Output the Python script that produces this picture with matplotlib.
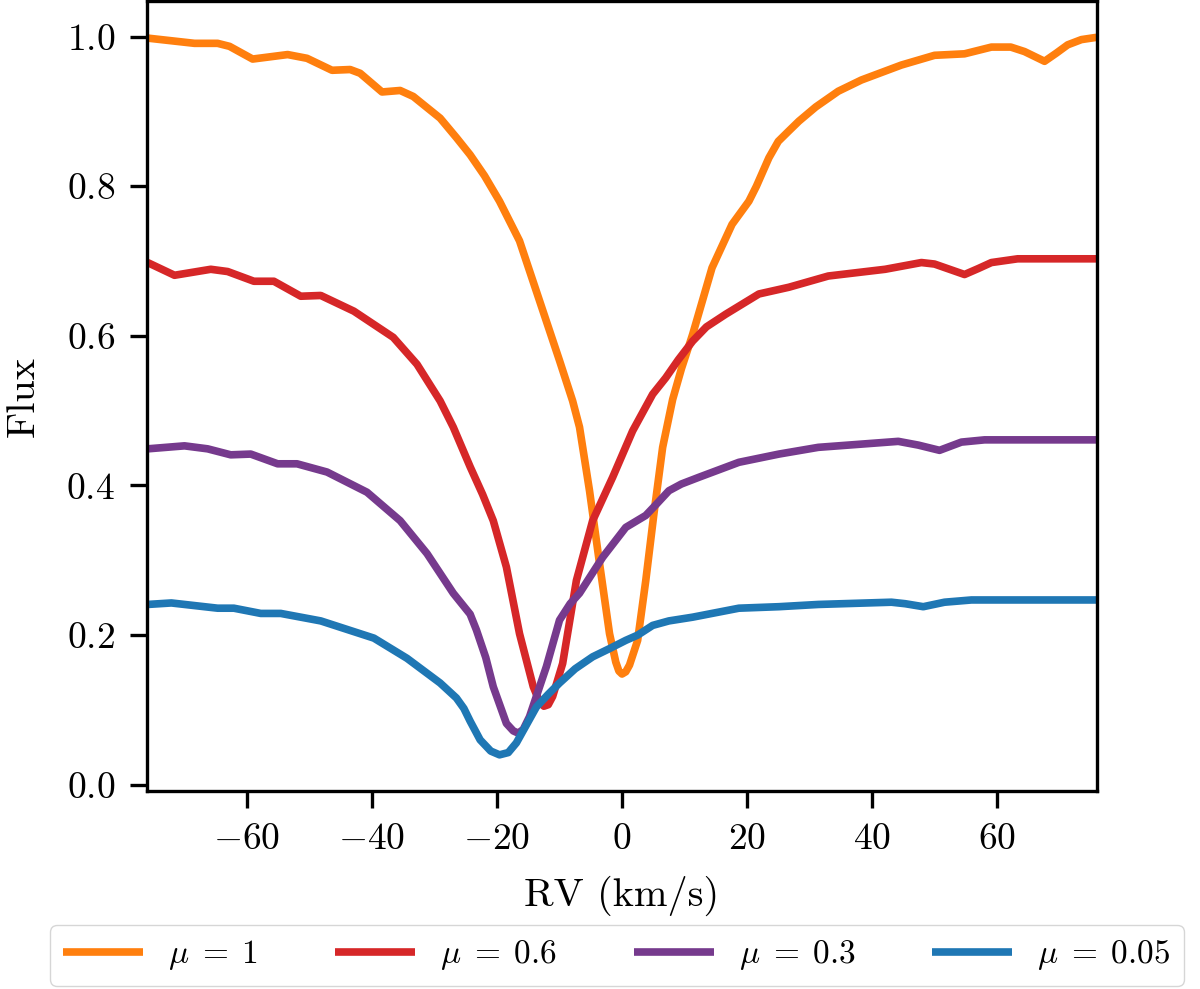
import numpy as np
import matplotlib
matplotlib.use('Agg')
import matplotlib.pyplot as plt

plt.rcParams['font.family'] = 'serif'
plt.rcParams['font.serif'] = ['cmr10', 'DejaVu Serif']
plt.rcParams['mathtext.fontset'] = 'cm'
plt.rcParams['axes.formatter.use_mathtext'] = True
plt.rcParams['font.size'] = 26

# mu = 1
rv_1 = [-75.9, -68.4, -64.7, -62.8, -59.1, -53.5, -50.4, -46.4, -43.5, -41.9, -38.4,
        -35.5, -33.4, -29.1, -26.5, -24.3, -22.0, -19.6, -16.4, -13.2, -10.0, -7.9,
        -6.8, -5.2, -3.6, -2.0, -1.0, -0.5, 0.0, 0.6, 1.2, 2.5, 3.8, 5.1, 6.5, 8.1,
        9.5, 11.3, 14.4, 17.6, 20.3, 21.5, 23.5, 25.0, 26.7, 28.3, 31.0, 34.6, 38.3,
        44.7, 50.0, 54.8, 59.1, 62.2, 64.4, 67.6, 69.5, 71.3, 73.5, 75.9]
flux_1 = [0.998, 0.991, 0.991, 0.987, 0.970, 0.976, 0.971, 0.955, 0.956, 0.951, 0.926,
          0.928, 0.920, 0.891, 0.865, 0.842, 0.814, 0.780, 0.727, 0.647, 0.567, 0.513,
          0.478, 0.393, 0.296, 0.202, 0.164, 0.152, 0.148, 0.151, 0.160, 0.193, 0.273,
          0.362, 0.451, 0.515, 0.556, 0.602, 0.691, 0.749, 0.780, 0.800, 0.838, 0.860,
          0.874, 0.887, 0.906, 0.927, 0.942, 0.962, 0.975, 0.977, 0.986, 0.986, 0.980,
          0.967, 0.978, 0.989, 0.996, 0.999]

# mu = 0.6
rv_06 = [-75.9, -71.6, -65.8, -63.1, -58.9, -55.7, -51.4, -48.2, -42.9, -36.6, -32.8,
         -29.1, -27.0, -24.3, -22.3, -20.6, -18.5, -16.4, -14.2, -13.3, -12.5, -11.8,
         -11.1, -9.5, -7.3, -4.7, -1.5, 1.7, 4.9, 7.0, 9.0, 11.3, 13.5, 16.6, 21.9,
         26.7, 33.0, 42.1, 47.9, 50.0, 54.8, 57.0, 59.1, 63.3, 75.9]
flux_06 = [0.698, 0.681, 0.689, 0.686, 0.673, 0.673, 0.653, 0.654, 0.633, 0.598, 0.562,
           0.513, 0.478, 0.425, 0.388, 0.353, 0.291, 0.202, 0.131, 0.113, 0.105, 0.107,
           0.118, 0.162, 0.273, 0.353, 0.411, 0.473, 0.522, 0.544, 0.568, 0.593, 0.612,
           0.629, 0.656, 0.665, 0.680, 0.689, 0.698, 0.696, 0.682, 0.690, 0.698, 0.703,
           0.703]

# mu = 0.3
rv_03 = [-75.9, -70.0, -66.3, -62.6, -59.4, -55.1, -52.0, -47.2, -40.8, -35.5, -31.2,
         -27.0, -24.3, -23.3, -21.8, -20.6, -18.5, -17.4, -16.6, -15.8, -14.8, -12.1,
         -10.0, -8.3, -6.8, -3.1, 0.6, 3.8, 5.5, 7.5, 9.5, 12.3, 18.7, 25.1, 31.4,
         37.8, 44.2, 47.4, 50.8, 54.3, 58.0, 75.9]
flux_03 = [0.449, 0.453, 0.449, 0.441, 0.442, 0.429, 0.429, 0.418, 0.391, 0.353, 0.309,
           0.256, 0.228, 0.207, 0.170, 0.131, 0.082, 0.072, 0.069, 0.074, 0.091, 0.158,
           0.220, 0.242, 0.256, 0.304, 0.344, 0.360, 0.375, 0.393, 0.402, 0.411, 0.431,
           0.442, 0.451, 0.455, 0.459, 0.454, 0.447, 0.458, 0.461, 0.461]

# mu = 0.05
rv_005 = [-75.9, -72.1, -64.7, -62.1, -57.8, -54.6, -48.2, -39.7, -34.4, -29.1, -26.5,
          -25.3, -24.3, -22.7, -21.0, -19.6, -18.2, -16.9, -15.3, -13.7, -11.8, -10.0,
          -7.5, -4.7, -2.0, 0.6, 2.5, 4.9, 7.5, 11.3, 18.7, 25.1, 31.4, 43.1, 45.3,
          48.2, 51.6, 55.9, 75.9]
flux_005 = [0.241, 0.243, 0.236, 0.236, 0.229, 0.229, 0.219, 0.196, 0.169, 0.136, 0.116,
            0.102, 0.085, 0.060, 0.045, 0.040, 0.043, 0.056, 0.080, 0.104, 0.121, 0.136,
            0.155, 0.171, 0.182, 0.193, 0.200, 0.213, 0.219, 0.224, 0.236, 0.238, 0.241,
            0.244, 0.242, 0.238, 0.244, 0.247, 0.247]

labels = [r'$\mu \;=\; 1$', r'$\mu \;=\; 0.6$', r'$\mu \;=\; 0.3$', r'$\mu \;=\; 0.05$']
colors = ['#ff7f0e', '#d62728', '#763a8d', '#1f77b4']

fig = plt.figure(figsize=(12, 9.89), dpi=100)
ax = fig.add_axes([0.1225, 0.2005, 0.7917, 0.798])

series = [(rv_1, flux_1), (rv_06, flux_06), (rv_03, flux_03), (rv_005, flux_005)]
for (x, y), lab, c in zip(series, labels, colors):
    ax.plot(x, y, color=c, lw=5.5, label=lab, solid_joinstyle='round', solid_capstyle='butt')

ax.set_xlim(-76, 76)
ax.set_xticks([-60, -40, -20, 0, 20, 40, 60])
ax.set_yticks([0.0, 0.2, 0.4, 0.6, 0.8, 1.0])
ax.set_xlabel('RV (km/s)', fontsize=29, labelpad=14)
ax.set_ylabel('Flux', fontsize=29, labelpad=18)

for s in ax.spines.values():
    s.set_linewidth(2.4)
ax.tick_params(width=2.4, length=12, pad=11, labelsize=27)

fig.legend(loc='lower center', ncol=4, bbox_to_anchor=(617 / 1200, 0.0), fontsize=24,
           borderaxespad=0.1, handlelength=2.4, columnspacing=2.3, handletextpad=0.75)

fig.savefig('out.png', dpi=100)
